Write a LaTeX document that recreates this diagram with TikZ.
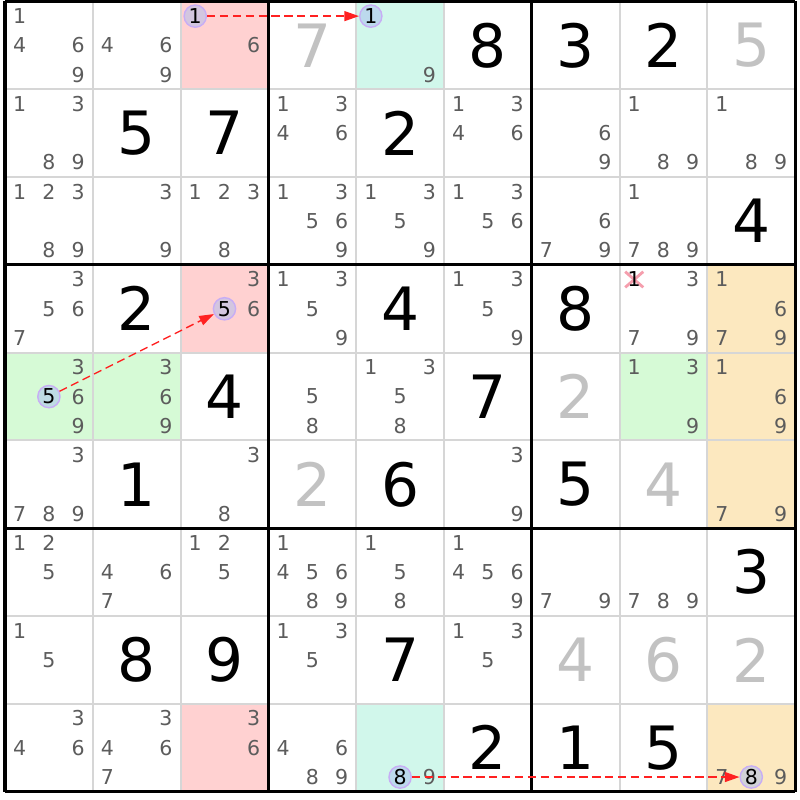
\documentclass[tikz,border=0pt]{standalone}
\usepackage{fontspec}
\newfontfamily\gridfont{DejaVu Sans}
\usepackage{xcolor}
\definecolor{candgray}{rgb}{0.36,0.36,0.36}
\definecolor{solvedgray}{rgb}{0.76,0.76,0.76}
\definecolor{gridgray}{rgb}{0.84,0.84,0.84}
\definecolor{pinkcell}{rgb}{1,0.82,0.82}
\definecolor{mintcell}{rgb}{0.82,0.97,0.92}
\definecolor{greencell}{rgb}{0.84,0.98,0.84}
\definecolor{orangecell}{rgb}{0.99,0.91,0.75}
\definecolor{linkred}{rgb}{1,0.13,0.13}
\definecolor{ringviolet}{rgb}{0.78,0.68,0.96}
\definecolor{ringfill}{rgb}{0.66,0.74,0.94}
\definecolor{xpink}{rgb}{0.96,0.62,0.68}
\usepackage{tikz}
\usetikzlibrary{calc,positioning,arrows.meta,shapes.misc}
\newcommand{\candfont}{\gridfont\fontsize{17.5}{17.5}\selectfont}
\newcommand{\bigfont}{\gridfont\fontsize{51}{51}\selectfont}
\tikzset{
  cand/.style={inner sep=0pt, font=\candfont, text=candgray},
  ring/.style={circle, draw=ringviolet, line width=1.2pt, fill=ringfill, fill opacity=0.5, text opacity=1, text=black, inner sep=0pt, minimum size=19pt, font=\candfont},
  crossed/.style={inner sep=0pt, font=\candfont, text=black},
  struck/.style={cross out, draw=xpink, line width=2.4pt, minimum width=13pt, minimum height=11pt, inner sep=0pt},
  given/.style={inner sep=0pt, font=\bigfont, text=black},
  placed/.style={inner sep=0pt, font=\bigfont, text=solvedgray},
  thinline/.style={draw=gridgray, line width=1.7pt},
  boxline/.style={draw=black, line width=2.6pt},
  link/.style={draw=linkred, line width=1.2pt, dash pattern=on 7pt off 4pt, -{Triangle[length=12.5pt,width=8.5pt]}},
}
% candidates of one cell: [style]{row}{col}{digits}
\newcommand{\candlist}[4][cand]{%
  \foreach \d in {#4}{%
    \pgfmathsetmacro{\cx}{#3+(mod(\d-1,3)+0.5)/3}%
    \pgfmathsetmacro{\cy}{#2+(floor((\d-1)/3)+0.5)/3}%
    \node[#1] (k#2#3-\d) at (\cx,\cy) {\d};
  }%
}
\begin{document}
\begin{tikzpicture}[x=2.634cm, y=-2.634cm]
  \useasboundingbox[fill=white] (-0.057,-0.017) rectangle (9.055,9.094);

  %coloured cells
  \fill[pinkcell] (2,0) rectangle +(1,1);
  \fill[pinkcell] (2,3) rectangle +(1,1);
  \fill[pinkcell] (2,8) rectangle +(1,1);
  \fill[mintcell] (4,0) rectangle +(1,1);
  \fill[mintcell] (4,8) rectangle +(1,1);
  \fill[greencell] (0,4) rectangle +(2,1);
  \fill[greencell] (7,4) rectangle +(1,1);
  \fill[orangecell] (8,3) rectangle +(1,3);
  \fill[orangecell] (8,8) rectangle +(1,1);

  %grid
  \foreach \i in {1,2,4,5,7,8} {
    \path[thinline] (\i,0) -- (\i,9);
    \path[thinline] (0,\i) -- (9,\i);
  }
  \foreach \i in {0,3,6,9} {
    \path[boxline] (\i,0) -- (\i,9);
    \path[boxline] (0,\i) -- (9,\i);
  }

  %row 0
  \candlist{0}{0}{1,4,6,9}
  \candlist{0}{1}{4,6,9}
  \candlist{0}{2}{6}
  \candlist[ring]{0}{2}{1}
  \node[placed] (v03) at (3.5,0.5) {7};
  \candlist{0}{4}{9}
  \candlist[ring]{0}{4}{1}
  \node[given] (v05) at (5.5,0.5) {8};
  \node[given] (v06) at (6.5,0.5) {3};
  \node[given] (v07) at (7.5,0.5) {2};
  \node[placed] (v08) at (8.5,0.5) {5};

  %row 1
  \candlist{1}{0}{1,3,8,9}
  \node[given] (v11) at (1.5,1.5) {5};
  \node[given] (v12) at (2.5,1.5) {7};
  \candlist{1}{3}{1,3,4,6}
  \node[given] (v14) at (4.5,1.5) {2};
  \candlist{1}{5}{1,3,4,6}
  \candlist{1}{6}{6,9}
  \candlist{1}{7}{1,8,9}
  \candlist{1}{8}{1,8,9}

  %row 2
  \candlist{2}{0}{1,2,3,8,9}
  \candlist{2}{1}{3,9}
  \candlist{2}{2}{1,2,3,8}
  \candlist{2}{3}{1,3,5,6,9}
  \candlist{2}{4}{1,3,5,9}
  \candlist{2}{5}{1,3,5,6}
  \candlist{2}{6}{6,7,9}
  \candlist{2}{7}{1,7,8,9}
  \node[given] (v28) at (8.5,2.5) {4};

  %row 3
  \candlist{3}{0}{3,5,6,7}
  \node[given] (v31) at (1.5,3.5) {2};
  \candlist{3}{2}{3,6}
  \candlist[ring]{3}{2}{5}
  \candlist{3}{3}{1,3,5,9}
  \node[given] (v34) at (4.5,3.5) {4};
  \candlist{3}{5}{1,3,5,9}
  \node[given] (v36) at (6.5,3.5) {8};
  \node[struck] (x37) at (7.1667,3.1667) {};
  \candlist[crossed]{3}{7}{1}
  \candlist{3}{7}{3,7,9}
  \candlist{3}{8}{1,6,7,9}

  %row 4
  \candlist{4}{0}{3,6,9}
  \candlist[ring]{4}{0}{5}
  \candlist{4}{1}{3,6,9}
  \node[given] (v42) at (2.5,4.5) {4};
  \candlist{4}{3}{5,8}
  \candlist{4}{4}{1,3,5,8}
  \node[given] (v45) at (5.5,4.5) {7};
  \node[placed] (v46) at (6.5,4.5) {2};
  \candlist{4}{7}{1,3,9}
  \candlist{4}{8}{1,6,9}

  %row 5
  \candlist{5}{0}{3,7,8,9}
  \node[given] (v51) at (1.5,5.5) {1};
  \candlist{5}{2}{3,8}
  \node[placed] (v53) at (3.5,5.5) {2};
  \node[given] (v54) at (4.5,5.5) {6};
  \candlist{5}{5}{3,9}
  \node[given] (v56) at (6.5,5.5) {5};
  \node[placed] (v57) at (7.5,5.5) {4};
  \candlist{5}{8}{7,9}

  %row 6
  \candlist{6}{0}{1,2,5}
  \candlist{6}{1}{4,6,7}
  \candlist{6}{2}{1,2,5}
  \candlist{6}{3}{1,4,5,6,8,9}
  \candlist{6}{4}{1,5,8}
  \candlist{6}{5}{1,4,5,6,9}
  \candlist{6}{6}{7,9}
  \candlist{6}{7}{7,8,9}
  \node[given] (v68) at (8.5,6.5) {3};

  %row 7
  \candlist{7}{0}{1,5}
  \node[given] (v71) at (1.5,7.5) {8};
  \node[given] (v72) at (2.5,7.5) {9};
  \candlist{7}{3}{1,3,5}
  \node[given] (v74) at (4.5,7.5) {7};
  \candlist{7}{5}{1,3,5}
  \node[placed] (v76) at (6.5,7.5) {4};
  \node[placed] (v77) at (7.5,7.5) {6};
  \node[placed] (v78) at (8.5,7.5) {2};

  %row 8
  \candlist{8}{0}{3,4,6}
  \candlist{8}{1}{3,4,6,7}
  \candlist{8}{2}{3,6}
  \candlist{8}{3}{4,6,8,9}
  \candlist{8}{4}{9}
  \candlist[ring]{8}{4}{8}
  \node[given] (v85) at (5.5,8.5) {2};
  \node[given] (v86) at (6.5,8.5) {1};
  \node[given] (v87) at (7.5,8.5) {5};
  \candlist{8}{8}{7,9}
  \candlist[ring]{8}{8}{8}

  %links
  \path[link] (k02-1) -- (k04-1);
  \path[link] (k40-5) -- (k32-5);
  \path[link] (k84-8) -- (k88-8);
\end{tikzpicture}
\end{document}
